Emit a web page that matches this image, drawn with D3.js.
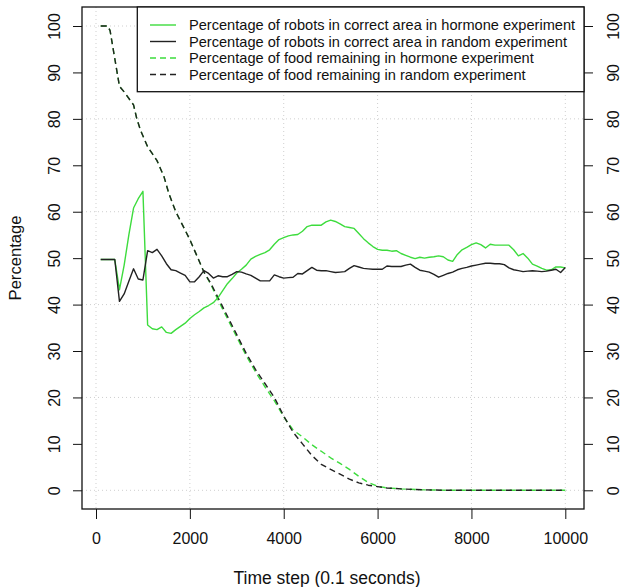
<!DOCTYPE html>
<html>
<head>
<meta charset="utf-8">
<script src="https://cdn.jsdelivr.net/npm/d3@7"></script>
<style>
  html, body { margin: 0; padding: 0; background: #fff; }
  svg { display: block; font-family: "Liberation Sans", Arial, Helvetica, sans-serif; }
</style>
</head>
<body>
<svg id="chart" width="621" height="587"></svg>
<script>
// ---- data (time step, percentage) ----
const robotsHormone = [[100,49.7],[400,49.7],[500,43.2],[600,48.5],[700,55],[800,60.8],[900,62.8],[1000,64.4],[1100,35.6],[1200,34.8],[1300,34.6],[1400,35.2],[1500,34],[1600,33.8],[1700,34.6],[1800,35.3],[1900,36],[2000,37],[2100,37.8],[2200,38.5],[2300,39.3],[2400,39.8],[2500,40.4],[2600,41.5],[2700,43],[2800,44.5],[2900,45.6],[3000,46.8],[3100,47.6],[3200,48.5],[3300,49.8],[3400,50.4],[3500,50.8],[3600,51.2],[3700,51.8],[3800,53],[3900,54],[4000,54.4],[4100,54.8],[4200,55],[4300,55.1],[4400,55.8],[4500,56.8],[4600,57.1],[4700,57.1],[4800,57.1],[4900,57.8],[5000,58.2],[5100,57.9],[5200,57.4],[5300,56.8],[5400,56.6],[5500,56.4],[5600,55.3],[5700,54.2],[5800,53.3],[5900,52.5],[6000,51.9],[6100,51.7],[6200,51.7],[6300,51.5],[6400,51.6],[6500,51],[6600,50.6],[6700,50.2],[6800,49.9],[6900,50.2],[7000,50],[7100,50.2],[7200,50.3],[7300,50.5],[7400,50.3],[7500,49.6],[7600,49.3],[7700,50.8],[7800,51.8],[7900,52.3],[8000,52.9],[8100,53.3],[8200,52.9],[8300,52.2],[8400,53],[8500,52.8],[8600,52.8],[8700,52.8],[8800,52.8],[8900,51.8],[9000,50.5],[9100,51],[9200,50],[9300,48.7],[9400,48.3],[9500,47.8],[9600,47.4],[9700,47.5],[9800,48.1],[9900,48.1],[10000,47.9]];

const robotsRandom = [[100,49.7],[400,49.7],[500,40.7],[600,42.3],[700,45],[800,47.7],[900,45.5],[1000,45.3],[1100,51.6],[1200,51.2],[1300,51.9],[1400,50.5],[1500,48.8],[1600,47.5],[1700,47.3],[1800,46.8],[1900,46.3],[2000,44.9],[2100,44.9],[2200,46],[2300,47.3],[2400,46.7],[2500,45.7],[2600,46.2],[2700,46],[2800,46],[2900,46.5],[3000,47.1],[3100,47],[3200,46.6],[3300,46.3],[3400,45.7],[3500,45.1],[3600,45.1],[3700,45.1],[3800,46.4],[3900,46],[4000,45.7],[4100,45.8],[4200,45.9],[4300,46.7],[4400,46.6],[4500,47.3],[4600,48],[4700,47.4],[4800,47.3],[4900,47.3],[5000,47.1],[5100,46.9],[5200,47],[5300,47.1],[5400,47.8],[5500,48.4],[5600,48.1],[5700,47.8],[5800,47.7],[5900,47.6],[6000,47.6],[6100,47.6],[6200,48.3],[6300,48.2],[6400,48.2],[6500,48.2],[6600,48.5],[6700,48.7],[6800,48],[6900,47.4],[7000,47.2],[7100,47],[7200,46.5],[7300,45.9],[7400,46.3],[7500,46.7],[7600,47],[7700,47.5],[7800,47.8],[7900,48],[8000,48.3],[8100,48.5],[8200,48.7],[8300,48.9],[8400,48.9],[8500,48.8],[8600,48.8],[8700,48.6],[8800,47.9],[8900,47.5],[9000,47.3],[9100,47.1],[9200,47.2],[9300,47.3],[9400,47.2],[9500,47.1],[9600,47.2],[9700,47.4],[9800,47.6],[9900,46.9],[10000,48]];

const foodHormone = [[100,100],[250,100],[300,99],[400,93],[500,87],[600,85.8],[800,83],[870,80],[950,77.5],[1100,74],[1200,72.5],[1300,71],[1450,67.5],[1550,64],[1700,60],[1850,57],[2000,54],[2150,50.5],[2300,47],[2450,44.3],[2600,41],[2750,38],[2900,35],[3050,32],[3200,29],[3400,25.5],[3600,22.3],[3800,19.3],[4000,15.8],[4200,13],[4400,11.5],[4600,9.8],[4800,8.4],[5000,7],[5200,5.8],[5400,4.5],[5600,3],[5800,1.7],[6000,0.9],[6200,0.5],[6500,0.3],[7000,0.1],[7500,0],[10000,0]];

const foodRandom = [[100,100],[250,100],[300,99],[400,93],[500,87],[600,85.8],[800,83],[870,80],[950,77.5],[1100,74],[1200,72.5],[1300,71],[1450,67.5],[1550,64],[1700,60],[1850,57],[2000,54],[2150,50.5],[2300,47],[2450,44.5],[2600,41.5],[2750,38.5],[2900,35.5],[3050,32.5],[3200,29.5],[3400,26],[3600,23],[3800,20],[4000,16],[4200,12.5],[4400,10],[4600,7.5],[4800,5.6],[5000,4.5],[5200,3.5],[5400,2.4],[5600,1.6],[5800,1.1],[6000,0.8],[6200,0.5],[6500,0.3],[7000,0.1],[7500,0],[10000,0]];

const xTicks = [0, 2000, 4000, 6000, 8000, 10000];
const yTicks = [0, 10, 20, 30, 40, 50, 60, 70, 80, 90, 100];
const yGrid = [0, 20, 40, 60, 80, 100];
const legendLabels = [
  "Percentage of robots in correct area in hormone experiment",
  "Percentage of robots in correct area in random experiment",
  "Percentage of food remaining in hormone experiment",
  "Percentage of food remaining in random experiment"
];

// ---- layout ----
const GREEN = "#3ddc3d", DARK = "#222222";
const box = {left: 82, right: 584, top: 7, bottom: 509};
const x = d3.scaleLinear().domain([0, 10000]).range([96, 565.3]);
const y = d3.scaleLinear().domain([0, 100]).range([490.3, 26]);
const svg = d3.select("#chart");

// grid
const grid = svg.append("g").attr("stroke", "#cfcfcf").attr("stroke-dasharray", "1,3").attr("stroke-width", 1);
grid.selectAll("line.v").data(xTicks).join("line")
  .attr("x1", d => x(d)).attr("x2", d => x(d)).attr("y1", box.top).attr("y2", box.bottom);
grid.selectAll("line.h").data(yGrid).join("line")
  .attr("y1", d => y(d)).attr("y2", d => y(d)).attr("x1", box.left).attr("x2", box.right);

// axes
const fs = "16px";
const xAxis = d3.axisBottom(x).tickValues(xTicks).tickSize(10).tickPadding(14).tickFormat(d3.format("d"));
svg.append("g").attr("transform", `translate(0,${box.bottom})`).call(xAxis)
  .call(g => { g.select(".domain").remove(); g.selectAll("text").attr("font-size", fs).attr("fill", "#111"); g.selectAll("line").attr("stroke", "#111"); });

const yAxisL = d3.axisLeft(y).tickValues(yTicks).tickSize(9).tickFormat(d3.format("d"));
svg.append("g").attr("transform", `translate(${box.left},0)`).call(yAxisL)
  .call(g => { g.select(".domain").remove(); g.selectAll("line").attr("stroke", "#111");
    g.selectAll("text").attr("font-size", fs).attr("fill", "#111")
      .attr("x", null).attr("dy", null)
      .attr("text-anchor", "middle")
      .attr("transform", d => `translate(-22,0) rotate(-90)`); });

const yAxisR = d3.axisRight(y).tickValues(yTicks).tickSize(9).tickFormat(d3.format("d"));
svg.append("g").attr("transform", `translate(${box.right},0)`).call(yAxisR)
  .call(g => { g.select(".domain").remove(); g.selectAll("line").attr("stroke", "#111");
    g.selectAll("text").attr("font-size", fs).attr("fill", "#111")
      .attr("x", null).attr("dy", null)
      .attr("text-anchor", "middle")
      .attr("transform", d => `translate(35,0) rotate(-90)`); });

// axis titles
svg.append("text").attr("x", 327).attr("y", 584).attr("text-anchor", "middle")
  .attr("font-size", "17.5px").attr("fill", "#111").text("Time step (0.1 seconds)");
svg.append("text").attr("transform", "translate(21,258) rotate(-90)").attr("text-anchor", "middle")
  .attr("font-size", "16.6px").attr("fill", "#111").text("Percentage");

// lines
const line = d3.line().x(d => x(d[0])).y(d => y(d[1]));
const series = [
  {data: robotsHormone, color: GREEN, dash: null},
  {data: robotsRandom, color: DARK, dash: null},
  {data: foodHormone, color: GREEN, dash: "6,4"},
  {data: foodRandom, color: DARK, dash: "6,4"}
];
const gl = svg.append("g").attr("fill", "none").attr("stroke-width", 1.4).attr("stroke-linejoin", "round");
gl.selectAll("path").data([series[2], series[3], series[0], series[1]]).join("path")
  .attr("d", d => line(d.data)).attr("stroke", d => d.color)
  .attr("stroke-dasharray", d => d.dash);

// plot box
svg.append("rect").attr("x", box.left).attr("y", box.top)
  .attr("width", box.right - box.left).attr("height", box.bottom - box.top)
  .attr("fill", "none").attr("stroke", "#111").attr("stroke-width", 1.3);

// legend
const lg = svg.append("g");
lg.append("rect").attr("x", 137.3).attr("y", box.top).attr("width", box.right - 137.3).attr("height", 91.7 - box.top)
  .attr("fill", "#fff").attr("stroke", "#111").attr("stroke-width", 1.3);
const rowY = [25, 41.5, 58, 74.5];
series.forEach((s, i) => {
  lg.append("line").attr("x1", 150).attr("x2", 176).attr("y1", rowY[i]).attr("y2", rowY[i])
    .attr("stroke", s.color).attr("stroke-width", 1.4).attr("stroke-dasharray", s.dash);
  lg.append("text").attr("x", 189).attr("y", rowY[i]).attr("dy", "0.35em")
    .attr("font-size", "14.6px").attr("fill", "#111").text(legendLabels[i]);
});
</script>
</body>
</html>
